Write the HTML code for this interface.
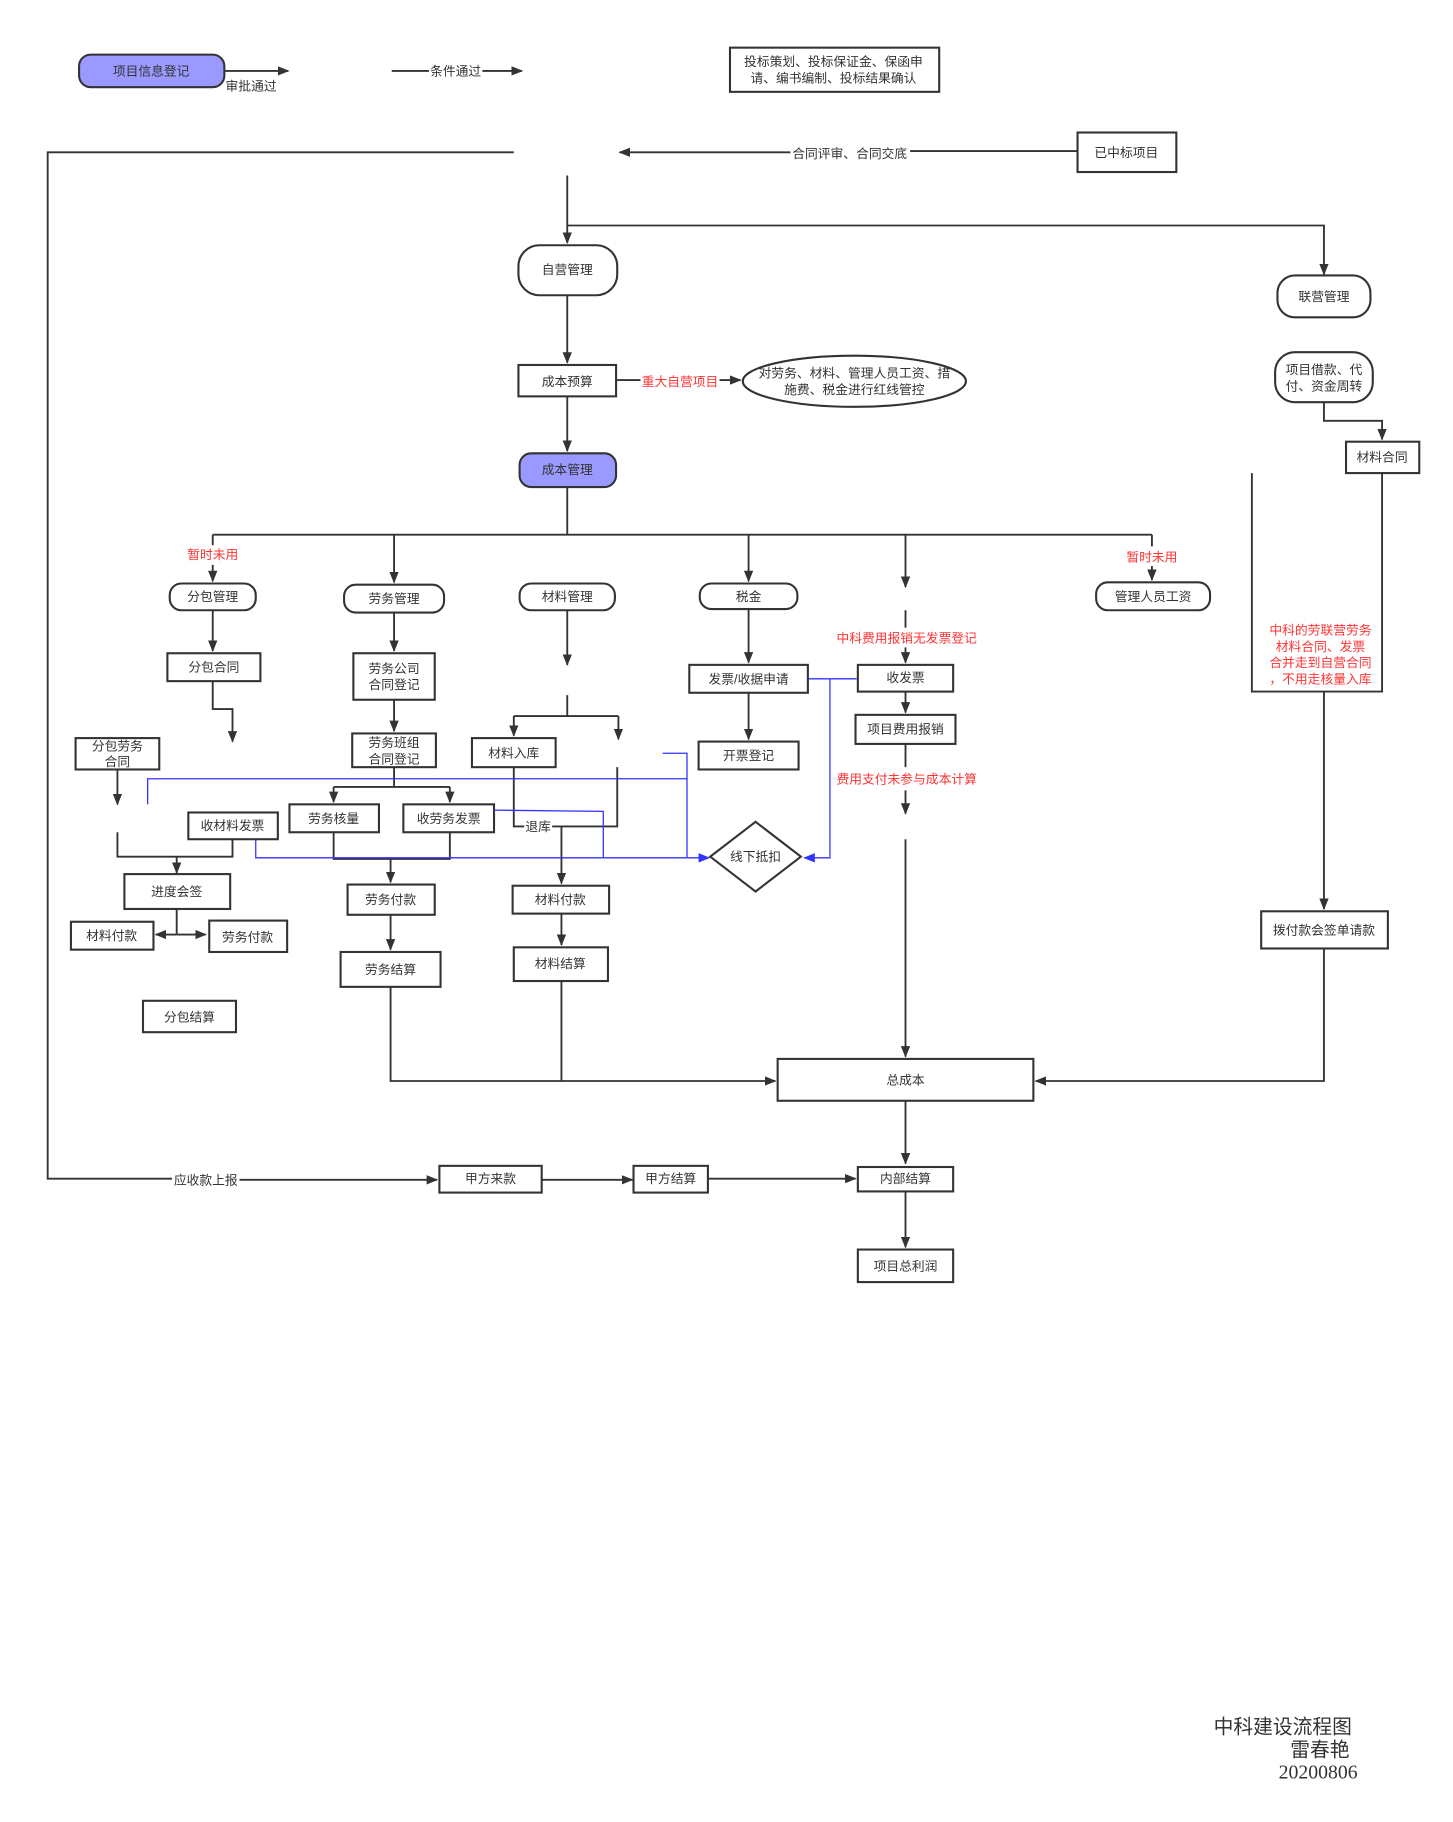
<!DOCTYPE html>
<html><head><meta charset="utf-8">
<style>
html,body{margin:0;padding:0;background:#fff;}
svg{display:block;}
text{font-family:"Liberation Sans","Noto Sans CJK SC",sans-serif;font-size:11px;fill:#333;text-anchor:middle;dominant-baseline:central;}
.r{fill:#ff3333;}
.k{fill:none;stroke:#333;stroke-width:1.6;}
.b{fill:none;stroke:#3333ff;stroke-width:1.1;}
.bx{fill:#fff;stroke:#333;stroke-width:1.8;}
.pu{fill:#9999ff;stroke:#333;stroke-width:1.8;}
</style></head><body>
<svg width="1453" height="1822" viewBox="0 0 1250 1567.5" xmlns="http://www.w3.org/2000/svg">
<defs>
<marker id="a" markerWidth="10" markerHeight="8" refX="9" refY="4" orient="auto" markerUnits="userSpaceOnUse"><path d="M0,0 L10,4 L0,8 z" fill="#333"/></marker>
<marker id="ab" markerWidth="10" markerHeight="8" refX="9" refY="4" orient="auto" markerUnits="userSpaceOnUse"><path d="M0,0 L10,4 L0,8 z" fill="#3333ff"/></marker>
</defs>

<rect class="pu" x="68" y="47" width="125" height="28" rx="10"/>
<text x="130" y="61">项目信息登记</text>
<path class="k" d="M193,61 H248" marker-end="url(#a)"/>
<text x="216" y="74">审批通过</text>
<path class="k" d="M337,61 H369"/>
<text x="392" y="61">条件通过</text>
<path class="k" d="M415,61 H449" marker-end="url(#a)"/>
<rect class="bx" x="628" y="41" width="180" height="38"/>
<text x="717" y="53">投标策划、投标保证金、保函申</text>
<text x="717" y="67">请、编书编制、投标结果确认</text>

<rect class="bx" x="927" y="114" width="85" height="34"/>
<text x="969" y="131">已中标项目</text>
<path class="k" d="M927,130 H783"/>
<text x="731" y="132">合同评审、合同交底</text>
<path class="k" d="M680,131 H533" marker-end="url(#a)"/>
<path class="k" d="M442,131 H41 V1014 H148"/>
<text x="177" y="1015">应收款上报</text>
<path class="k" d="M206,1015 H376" marker-end="url(#a)"/>

<path class="k" d="M488,151 V209" marker-end="url(#a)"/>
<path class="k" d="M488,194 H1139 V236" marker-end="url(#a)"/>
<rect class="bx" x="446" y="211" width="85" height="43" rx="18"/>
<text x="488" y="232">自营管理</text>
<rect class="bx" x="1099" y="237" width="80" height="36" rx="15"/>
<text x="1139" y="255">联营管理</text>

<path class="k" d="M488,254 V312" marker-end="url(#a)"/>
<rect class="bx" x="446" y="314" width="84" height="27"/>
<text x="488" y="328">成本预算</text>
<path class="k" d="M530,327 H551"/>
<text class="r" x="585" y="328">重大自营项目</text>
<path class="k" d="M619,327 H637" marker-end="url(#a)"/>
<ellipse class="bx" cx="735" cy="328" rx="96" ry="22"/>
<text x="735" y="321">对劳务、材料、管理人员工资、措</text>
<text x="735" y="335">施费、税金进行红线管控</text>

<rect class="bx" x="1097" y="303" width="84" height="43" rx="17"/>
<text x="1139" y="318">项目借款、代</text>
<text x="1139" y="332">付、资金周转</text>
<path class="k" d="M1139,346 V362 H1189 V378" marker-end="url(#a)"/>
<rect class="bx" x="1158" y="380" width="63" height="27"/>
<text x="1189" y="393">材料合同</text>

<path class="k" d="M488,341 V388" marker-end="url(#a)"/>
<rect class="pu" x="447" y="390" width="83" height="29" rx="10"/>
<text x="488" y="404">成本管理</text>

<path class="k" d="M488,419 V460 M183,460 H991"/>
<path class="k" d="M183,460 V469"/>
<text class="r" x="183" y="477">暂时未用</text>
<path class="k" d="M183,486 V500" marker-end="url(#a)"/>
<path class="k" d="M339,460 V501" marker-end="url(#a)"/>
<path class="k" d="M644,460 V500" marker-end="url(#a)"/>
<path class="k" d="M779,460 V505" marker-end="url(#a)"/>
<path class="k" d="M991,460 V470"/>
<text class="r" x="991" y="479">暂时未用</text>
<path class="k" d="M991,487 V499" marker-end="url(#a)"/>

<rect class="bx" x="146" y="502" width="74" height="23" rx="10"/><text x="183" y="513">分包管理</text>
<rect class="bx" x="296" y="503" width="86" height="24" rx="10"/><text x="339" y="515">劳务管理</text>
<rect class="bx" x="447" y="502" width="82" height="23" rx="10"/><text x="488" y="513">材料管理</text>
<rect class="bx" x="602" y="502" width="84" height="22" rx="10"/><text x="644" y="513">税金</text>
<rect class="bx" x="943" y="501" width="98" height="24" rx="10"/><text x="992" y="513">管理人员工资</text>

<path class="k" d="M183,525 V560" marker-end="url(#a)"/>
<rect class="bx" x="144" y="562" width="80" height="24"/><text x="184" y="574">分包合同</text>
<path class="k" d="M183,586 V610 H200 V638" marker-end="url(#a)"/>
<rect class="bx" x="65" y="635" width="72" height="27"/>
<text x="101" y="642">分包劳务</text><text x="101" y="655">合同</text>
<path class="k" d="M101,662 V692" marker-end="url(#a)"/>
<path class="k" d="M101,716 V737 H200 V722"/>
<rect class="bx" x="162" y="699" width="77" height="23"/><text x="200" y="710">收材料发票</text>
<path class="k" d="M152,737 V751" marker-end="url(#a)"/>
<rect class="bx" x="107" y="752" width="91" height="30"/><text x="152" y="767">进度会签</text>
<path class="k" d="M152,782 V804 M152,804 H134" marker-end="url(#a)"/>
<path class="k" d="M152,804 H177" marker-end="url(#a)"/>
<rect class="bx" x="61" y="793" width="71" height="24"/><text x="96" y="805">材料付款</text>
<rect class="bx" x="180" y="792" width="67" height="27"/><text x="213" y="806">劳务付款</text>
<rect class="bx" x="123" y="861" width="80" height="27"/><text x="163" y="875">分包结算</text>

<path class="k" d="M339,527 V560" marker-end="url(#a)"/>
<rect class="bx" x="304" y="562" width="70" height="40"/>
<text x="339" y="575">劳务公司</text><text x="339" y="589">合同登记</text>
<path class="k" d="M339,602 V629" marker-end="url(#a)"/>
<rect class="bx" x="303" y="631" width="72" height="29"/>
<text x="339" y="639">劳务班组</text><text x="339" y="653">合同登记</text>
<path class="k" d="M339,660 V677 M287,677 H387"/>
<path class="k" d="M287,677 V690" marker-end="url(#a)"/>
<path class="k" d="M387,677 V690" marker-end="url(#a)"/>
<rect class="bx" x="249" y="692" width="77" height="24"/><text x="287" y="704">劳务核量</text>
<rect class="bx" x="347" y="692" width="78" height="24"/><text x="386" y="704">收劳务发票</text>
<path class="k" d="M287,716 V739 H387 V716"/>
<path class="k" d="M336,739 V759" marker-end="url(#a)"/>
<rect class="bx" x="299" y="761" width="75" height="26"/><text x="336" y="774">劳务付款</text>
<path class="k" d="M336,787 V817" marker-end="url(#a)"/>
<rect class="bx" x="293" y="819" width="86" height="30"/><text x="336" y="834">劳务结算</text>
<path class="k" d="M336,849 V930 H667" marker-end="url(#a)"/>

<path class="k" d="M488,525 V572" marker-end="url(#a)"/>
<path class="k" d="M488,598 V616 M442,616 H532"/>
<path class="k" d="M442,616 V633" marker-end="url(#a)"/>
<path class="k" d="M532,616 V636" marker-end="url(#a)"/>
<rect class="bx" x="406" y="635" width="72" height="25"/><text x="442" y="648">材料入库</text>
<path class="k" d="M442,660 V711 H451 M475,711 H531 V660"/>
<text x="463" y="711">退库</text>
<path class="k" d="M483,711 V760" marker-end="url(#a)"/>
<rect class="bx" x="441" y="762" width="83" height="24"/><text x="482" y="774">材料付款</text>
<path class="k" d="M483,786 V813" marker-end="url(#a)"/>
<rect class="bx" x="442" y="815" width="81" height="29"/><text x="482" y="829">材料结算</text>
<path class="k" d="M483,844 V930"/>

<path class="b" d="M127,692 V670 H591 V738 H610" marker-end="url(#ab)"/>
<path class="b" d="M220,722 V738 H591"/>
<path class="b" d="M425,697 L519,698 V738"/>
<path class="b" d="M570,648 H591 V670"/>
<path class="b" d="M695,584 H737 M714,584 V738 H692" marker-end="url(#ab)"/>

<path class="k" d="M644,524 V570" marker-end="url(#a)"/>
<rect class="bx" x="593" y="572" width="102" height="24"/><text x="644" y="584">发票/收据申请</text>
<path class="k" d="M644,596 V636" marker-end="url(#a)"/>
<rect class="bx" x="601" y="638" width="86" height="24"/><text x="644" y="650">开票登记</text>
<polygon class="bx" points="650,707 689,737 650,767 611,737"/>
<text x="650" y="737">线下抵扣</text>

<path class="k" d="M779,525 V540"/>
<text class="r" x="780" y="549">中科费用报销无发票登记</text>
<path class="k" d="M779,557 V570" marker-end="url(#a)"/>
<rect class="bx" x="738" y="572" width="82" height="23"/><text x="779" y="583">收发票</text>
<path class="k" d="M779,595 V613" marker-end="url(#a)"/>
<rect class="bx" x="736" y="615" width="86" height="25"/><text x="779" y="627">项目费用报销</text>
<path class="k" d="M779,640 V660"/>
<text class="r" x="780" y="670">费用支付未参与成本计算</text>
<path class="k" d="M779,680 V700" marker-end="url(#a)"/>
<path class="k" d="M779,722 V909" marker-end="url(#a)"/>

<path class="k" d="M1077,407 V595 H1189 V407"/>
<text class="r" x="1136" y="542">中科的劳联营劳务</text>
<text class="r" x="1136" y="556">材料合同、发票</text>
<text class="r" x="1136" y="570">合并走到自营合同</text>
<text class="r" x="1136" y="584">，不用走核量入库</text>
<path class="k" d="M1139,595 V782" marker-end="url(#a)"/>
<rect class="bx" x="1085" y="784" width="109" height="32"/><text x="1139" y="800">拨付款会签单请款</text>
<path class="k" d="M1139,816 V930 H891" marker-end="url(#a)"/>

<rect class="bx" x="669" y="911" width="220" height="36"/><text x="779" y="929">总成本</text>
<path class="k" d="M779,947 V1001" marker-end="url(#a)"/>

<rect class="bx" x="378" y="1003" width="88" height="23"/><text x="422" y="1014">甲方来款</text>
<path class="k" d="M466,1015 H544" marker-end="url(#a)"/>
<rect class="bx" x="545" y="1003" width="64" height="23"/><text x="577" y="1014">甲方结算</text>
<path class="k" d="M609,1014 H736" marker-end="url(#a)"/>
<rect class="bx" x="738" y="1004" width="82" height="21"/><text x="779" y="1014">内部结算</text>
<path class="k" d="M779,1025 V1073" marker-end="url(#a)"/>
<rect class="bx" x="738" y="1075" width="82" height="28"/><text x="779" y="1089">项目总利润</text>

<text x="1163" y="1486" style="font-size:17px;text-anchor:end">中科建设流程图</text>
<text x="1161" y="1506" style="font-size:17px;text-anchor:end">雷春艳</text>
<text x="1168" y="1525" style="font-size:17px;text-anchor:end;font-family:'Liberation Serif',serif">20200806</text>
</svg>
</body></html>
